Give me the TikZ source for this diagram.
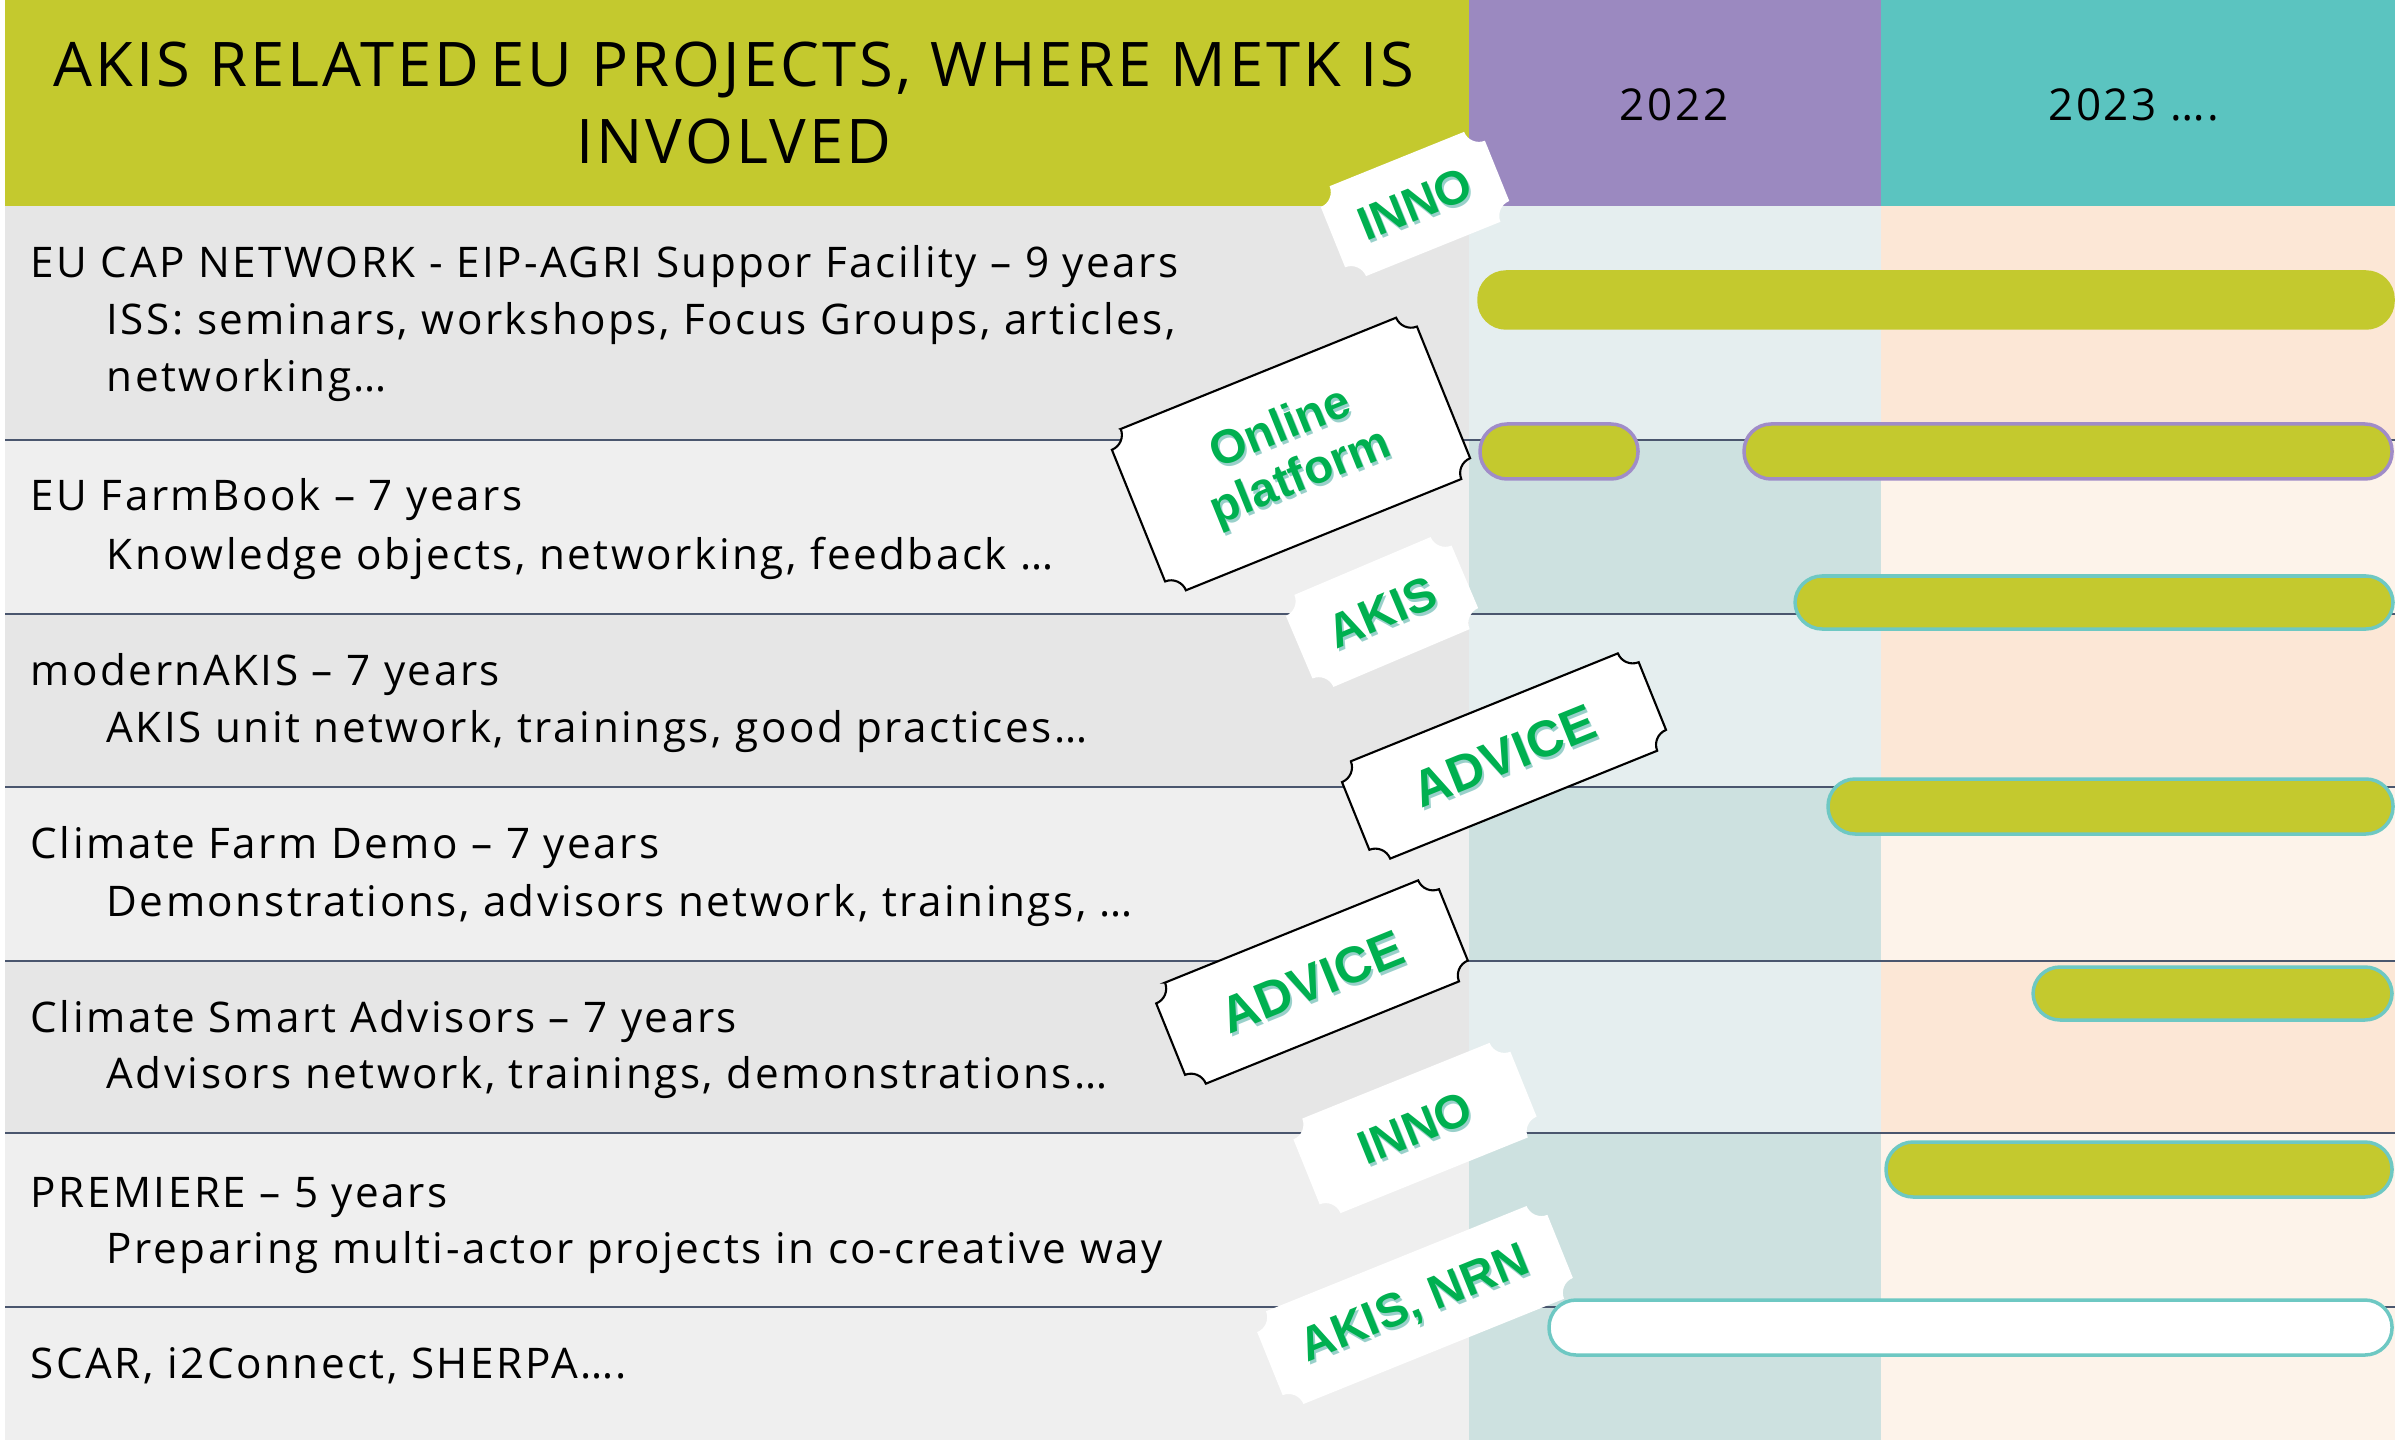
\documentclass[tikz,border=0pt]{standalone}
\usepackage{fontspec}
\setmainfont{Open Sans}[LetterSpace=6]
\newfontfamily\titlefont{Open Sans}[LetterSpace=5]
\newfontfamily\tagfont{Liberation Sans}
\usetikzlibrary{calc}

\definecolor{headgreen}{RGB}{196,201,46}
\definecolor{headpurple}{RGB}{155,137,192}
\definecolor{headteal}{RGB}{91,196,192}
\definecolor{rowdark}{RGB}{230,230,230}
\definecolor{rowlight}{RGB}{239,239,239}
\definecolor{mintlight}{RGB}{229,238,239}
\definecolor{mintdark}{RGB}{205,225,224}
\definecolor{peachdark}{RGB}{252,231,214}
\definecolor{peachlight}{RGB}{253,243,234}
\definecolor{rule}{RGB}{74,86,110}
\definecolor{barpurple}{RGB}{160,140,200}
\definecolor{barteal}{RGB}{110,200,195}
\definecolor{taggreen}{RGB}{0,176,80}
\definecolor{tagshade}{RGB}{70,170,160}

\tikzset{
	rowtext/.style={anchor=base west, inner sep=0pt, font=\fontsize{12}{14}\selectfont},
	yeartext/.style={anchor=base, inner sep=0pt, font=\fontsize{12.5}{15}\selectfont},
	titletext/.style={anchor=base, inner sep=0pt, font=\titlefont\fontsize{17.5}{21}\selectfont},
	bar/.style={fill=headgreen, rounded corners=0.27cm, line width=0.35mm},
	sep/.style={draw=rule, line width=0.7pt},
	plain ticket/.style={fill=white, draw=none},
	framed ticket/.style={fill=white, draw=black, line width=0.6pt},
	tagtext/.style={font=\tagfont\bfseries\fontsize{13.5}{15}\selectfont, text=taggreen, align=center, inner sep=0pt},
	tagshadow/.style={tagtext, text=tagshade, opacity=0.55},
	bigtag/.style={font=\tagfont\bfseries\fontsize{14.5}{16}\selectfont},
}

% ticket: centre, angle, width, height (px)
\def\ticket[#1](#2)(#3:#4:#5){\path[#1, shift={(#2)}, rotate=#3] (-#4/2+16, -#5/2) -- (#4/2-16, -#5/2) arc (180:90:16) -- (#4/2, #5/2-16) arc (270:180:16) -- (-#4/2+16, #5/2) arc (0:-90:16) -- (-#4/2, -#5/2+16) arc (90:0:16) -- cycle;}

\begin{document}
\begin{tikzpicture}[x=0.01cm, y=-0.01cm]
			%%%%% START %%%%%
			\useasboundingbox (0,0) rectangle (2395,1440);
			\fill[white] (0,0) rectangle (2395,1440);
			
			% header
			\fill[headgreen] (5,0) rectangle (1469,206);
			\fill[headpurple] (1469,0) rectangle (1881,206);
			\fill[headteal] (1881,0) rectangle (2395,206);
			\node[titletext] (title) at (734,87) {AKIS RELATED\,EU PROJECTS, WHERE METK IS};
			\node[titletext] (titleb) at (734,164) {INVOLVED};
			\node[yeartext] (y2022) at (1674,121) {2022};
			\node[yeartext] (y2023) at (2134,121) {2023 ….};
			
			% rows
			\fill[rowdark] (5,206) rectangle (1469,440);
			\fill[mintlight] (1469,206) rectangle (1881,440);
			\fill[peachdark] (1881,206) rectangle (2395,440);
			
			\fill[rowlight] (5,440) rectangle (1469,614);
			\fill[mintdark] (1469,440) rectangle (1881,614);
			\fill[peachlight] (1881,440) rectangle (2395,614);
			
			\fill[rowdark] (5,614) rectangle (1469,787);
			\fill[mintlight] (1469,614) rectangle (1881,787);
			\fill[peachdark] (1881,614) rectangle (2395,787);
			
			\fill[rowlight] (5,787) rectangle (1469,961);
			\fill[mintdark] (1469,787) rectangle (1881,961);
			\fill[peachlight] (1881,787) rectangle (2395,961);
			
			\fill[rowdark] (5,961) rectangle (1469,1133);
			\fill[mintlight] (1469,961) rectangle (1881,1133);
			\fill[peachdark] (1881,961) rectangle (2395,1133);
			
			\fill[rowlight] (5,1133) rectangle (1469,1440);
			\fill[mintdark] (1469,1133) rectangle (1881,1440);
			\fill[peachlight] (1881,1133) rectangle (2395,1440);
			
			\draw[sep] (5,440) -- (2395,440);
			\draw[sep] (5,614) -- (2395,614);
			\draw[sep] (5,787) -- (2395,787);
			\draw[sep] (5,961) -- (2395,961);
			\draw[sep] (5,1133) -- (2395,1133);
			\draw[sep] (5,1307) -- (2395,1307);
			
			\node[rowtext] (eucap) at (30,278) {EU CAP NETWORK - EIP-AGRI Suppor Facility – 9 years};
			\node[rowtext] (eucapa) at (106,335) {ISS: seminars, workshops, Focus Groups, articles,};
			\node[rowtext] (eucapb) at (106,392) {networking…};
			\node[rowtext] (farmbook) at (30,511) {EU FarmBook – 7 years};
			\node[rowtext] (farmbooka) at (106,569) {Knowledge objects, networking, feedback …};
			\node[rowtext] (modern) at (30,685) {modernAKIS – 7 years};
			\node[rowtext] (moderna) at (106,742) {AKIS unit network, trainings, good practices…};
			\node[rowtext] (farmdemo) at (30,858) {Climate Farm Demo – 7 years};
			\node[rowtext] (farmdemoa) at (106,916) {Demonstrations, advisors network, trainings, …};
			\node[rowtext] (smart) at (30,1032) {Climate Smart Advisors – 7 years};
			\node[rowtext] (smarta) at (106,1088) {Advisors network, trainings, demonstrations…};
			\node[rowtext] (premiere) at (30,1207) {PREMIERE – 5 years};
			\node[rowtext] (premierea) at (106,1263) {Preparing multi-actor projects in co-creative way};
			\node[rowtext] (scar) at (30,1378) {SCAR, i2Connect, SHERPA….};
			
			% bars
			\draw[bar, draw=headgreen] (1479,272) rectangle (2393,328);
			\draw[bar, draw=barpurple] (1480,424) rectangle (1638,479);
			\draw[bar, draw=barpurple] (1744,424) rectangle (2392,479);
			\draw[bar, draw=barteal] (1795,576) rectangle (2393,629);
			\draw[bar, draw=barteal] (1828,779) rectangle (2393,834);
			\draw[bar, draw=barteal] (2033,967) rectangle (2392,1020);
			\draw[bar, draw=barteal] (1886,1142) rectangle (2392,1197);
			\draw[bar, fill=white, draw=barteal] (1549,1300) rectangle (2392,1355);
			
			% tickets
			\ticket[plain ticket](1415,204)(22:177:97);
			\node[tagshadow, rotate=22] (inno1s) at (1417,207) {INNO};
			\node[tagtext, rotate=22] (inno1) at (1415,204) {INNO};
			
			\ticket[framed ticket](1291,454)(22:329:174);
			\node[tagshadow, rotate=22] (onlines) at (1293,457) {Online\\platform};
			\node[tagtext, rotate=22] (online) at (1291,454) {Online\\platform};
			
			\ticket[plain ticket](1382,612)(23:180:100);
			\node[tagshadow, rotate=23] (akis1s) at (1384,615) {AKIS};
			\node[tagtext, rotate=23] (akis1) at (1382,612) {AKIS};
			
			\ticket[framed ticket](1504,756)(22:320:105);
			\node[tagshadow, bigtag, rotate=22] (advice1s) at (1506,759) {ADVICE};
			\node[tagtext, bigtag, rotate=22] (advice1) at (1504,756) {ADVICE};
			
			\ticket[framed ticket](1312,982)(22:305:109);
			\node[tagshadow, bigtag, rotate=22] (advice2s) at (1314,985) {ADVICE};
			\node[tagtext, bigtag, rotate=22] (advice2) at (1312,982) {ADVICE};
			
			\ticket[plain ticket](1415,1128)(22:234:102);
			\node[tagshadow, rotate=22] (inno2s) at (1417,1131) {INNO};
			\node[tagtext, rotate=22] (inno2) at (1415,1128) {INNO};
			
			\ticket[plain ticket](1415,1305)(22:313:100);
			\node[tagshadow, rotate=22] (nrns) at (1417,1308) {AKIS, NRN};
			\node[tagtext, rotate=22] (nrn) at (1415,1305) {AKIS, NRN};
			
			%%%%% END %%%%%
\end{tikzpicture}
\end{document}
